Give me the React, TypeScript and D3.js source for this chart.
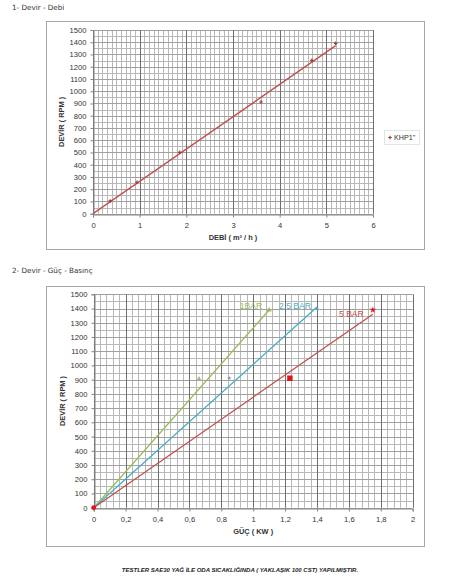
import { useEffect, useRef } from 'react';

import * as d3 from 'd3';

const W = 465;
const H = 580;
const FONT = '"Liberation Sans", Arial, sans-serif';

// 1- Devir - Debi
const debiM3h = [0.37, 0.94, 1.86, 3.6, 4.69, 5.2];
const debiRpm = [104, 257, 501, 912, 1252, 1391];
const debiTrendM3h = [0, 5.2];
const debiTrendRpm = [0, 1372];
const debiTicks = [0, 1, 2, 3, 4, 5, 6];

// 2- Devir - Güç - Basınç
const barLabels = ['1BAR', '2,5 BAR', '5 BAR'];
const barColors = ['#9bbb59', '#4bacc6', '#c0504d'];
const barLineKw = [
    [0, 1.1],
    [0, 1.4],
    [0, 1.75]
];
const barLineRpm = [
    [0, 1390],
    [0, 1410],
    [0, 1360]
];
const bar1Kw = [0.66, 1.1];
const bar1Rpm = [905, 1390];
const bar25Kw = [0.85, 1.4];
const bar25Rpm = [910, 1400];
const bar5Kw = [0, 1.23, 1.75];
const bar5Rpm = [0, 910, 1390];
const gucTicks = [0, 0.2, 0.4, 0.6, 0.8, 1, 1.2, 1.4, 1.6, 1.8, 2];

const rpmTicks = d3.range(0, 1501, 100);

type Frame = {
    box: [number, number, number, number];
    plot: [number, number, number, number];
    xMax: number;
    xMinorCount: number;
    xMajor: number[];
    xTitle: string;
    fmt: (d: number) => string;
};

// snap to the pixel grid so the thin grid lines stay crisp
const px = (v: number) => Math.round(v) + 0.5;

function drawFrame(svg: d3.Selection<SVGSVGElement, unknown, null, undefined>, f: Frame) {
    const [bx, by, bw, bh] = f.box;
    const [px0, py0, px1, py1] = f.plot;

    svg.append('rect')
        .attr('x', bx + 0.5)
        .attr('y', by + 0.5)
        .attr('width', bw)
        .attr('height', bh)
        .attr('fill', '#ffffff')
        .attr('stroke', '#a6a6a6');

    const x = d3.scaleLinear().domain([0, f.xMax]).range([px0, px1]);
    const y = d3.scaleLinear().domain([0, 1500]).range([py1, py0]);
    const g = svg.append('g');

    const xMinor = d3.range(0, f.xMinorCount + 1).map((i) => (i * f.xMax) / f.xMinorCount);

    // minor grid
    g.append('g')
        .selectAll('line')
        .data(xMinor)
        .join('line')
        .attr('x1', (d) => px(x(d)))
        .attr('x2', (d) => px(x(d)))
        .attr('y1', py0)
        .attr('y2', py1)
        .attr('stroke', '#b8b8b8')
        .attr('stroke-width', 1);
    g.append('g')
        .selectAll('line')
        .data(d3.range(0, 1501, 50))
        .join('line')
        .attr('x1', px0)
        .attr('x2', px1)
        .attr('y1', (d) => px(y(d)))
        .attr('y2', (d) => px(y(d)))
        .attr('stroke', (d) => (d % 100 === 0 ? '#a0a0a0' : '#b8b8b8'))
        .attr('stroke-width', 1);
    // major vertical grid
    g.append('g')
        .selectAll('line')
        .data(f.xMajor)
        .join('line')
        .attr('x1', (d) => px(x(d)))
        .attr('x2', (d) => px(x(d)))
        .attr('y1', py0)
        .attr('y2', py1)
        .attr('stroke', '#6e6e6e')
        .attr('stroke-width', 1);

    // axes
    svg.append('g')
        .attr('transform', `translate(0, ${px(py1)})`)
        .call(d3.axisBottom(x).tickValues(f.xMajor).tickSize(3).tickPadding(5).tickFormat((d) => f.fmt(+d)))
        .call((a) => a.select('.domain').attr('stroke', '#868686'))
        .call((a) => a.selectAll('.tick line').attr('stroke', '#868686'))
        .call((a) => a.selectAll('text').attr('font-family', FONT).attr('font-size', 7.6).attr('fill', '#333'));

    svg.append('g')
        .attr('transform', `translate(${px(px0)}, 0)`)
        .call(d3.axisLeft(y).tickValues(rpmTicks).tickSize(3).tickPadding(4).tickFormat(d3.format('d')))
        .call((a) => a.select('.domain').attr('stroke', '#868686'))
        .call((a) => a.selectAll('.tick line').attr('stroke', '#868686'))
        .call((a) => a.selectAll('text').attr('font-family', FONT).attr('font-size', 7.6).attr('fill', '#333'));

    svg.append('text')
        .attr('transform', `translate(${px0 - 29}, ${(py0 + py1) / 2}) rotate(-90)`)
        .attr('text-anchor', 'middle')
        .attr('font-family', FONT)
        .attr('font-size', 7.4)
        .attr('font-weight', 'bold')
        .attr('fill', '#333')
        .text('DEVİR ( RPM )');

    svg.append('text')
        .attr('x', (px0 + px1) / 2)
        .attr('y', py1 + 26)
        .attr('text-anchor', 'middle')
        .attr('font-family', FONT)
        .attr('font-size', 7.4)
        .attr('font-weight', 'bold')
        .attr('fill', '#333')
        .text(f.xTitle);

    return { x, y };
}

export default function App() {
    const ref = useRef<SVGSVGElement>(null);

    useEffect(() => {
        const svg = d3.select(ref.current!);
        svg.selectAll('*').remove();

        svg.append('text')
            .attr('x', 12)
            .attr('y', 10)
            .attr('font-family', '"DejaVu Sans", sans-serif')
            .attr('font-size', 7.2)
            .attr('fill', '#333')
            .text('1- Devir - Debi');

        svg.append('text')
            .attr('x', 12)
            .attr('y', 273)
            .attr('font-family', '"DejaVu Sans", sans-serif')
            .attr('font-size', 7.2)
            .attr('fill', '#333')
            .text('2- Devir - Güç - Basınç');

        // ---------- chart 1
        const c1 = drawFrame(svg, {
            box: [46, 21, 378, 228],
            plot: [93, 30, 373, 213.7],
            xMax: 6,
            xMinorCount: 60,
            xMajor: debiTicks,
            xTitle: 'DEBİ ( m³ / h )',
            fmt: (d) => String(d)
        });

        svg.append('line')
            .attr('x1', c1.x(debiTrendM3h[0]))
            .attr('y1', c1.y(debiTrendRpm[0]))
            .attr('x2', c1.x(debiTrendM3h[1]))
            .attr('y2', c1.y(debiTrendRpm[1]))
            .attr('stroke', '#c0504d')
            .attr('stroke-width', 1.4);

        const plus = d3.symbol().type(d3.symbolCross).size(7);
        svg.append('g')
            .selectAll('path')
            .data(debiM3h)
            .join('path')
            .attr('d', plus)
            .attr('transform', (d, i) => `translate(${c1.x(d)}, ${c1.y(debiRpm[i])})`)
            .attr('fill', '#a03a38');

        // legend
        svg.append('rect')
            .attr('x', 384.5)
            .attr('y', 130.5)
            .attr('width', 35)
            .attr('height', 14)
            .attr('fill', '#fff')
            .attr('stroke', '#e4e4e4');
        svg.append('path')
            .attr('d', plus)
            .attr('transform', 'translate(390, 137.5)')
            .attr('fill', '#a03a38');
        svg.append('text')
            .attr('x', 394)
            .attr('y', 140)
            .attr('font-family', FONT)
            .attr('font-size', 7.2)
            .attr('fill', '#333')
            .text('KHP1"');

        // ---------- chart 2
        const c2 = drawFrame(svg, {
            box: [46, 286, 378, 260],
            plot: [93.7, 294.3, 412.7, 507.7],
            xMax: 2,
            xMinorCount: 50,
            xMajor: gucTicks,
            xTitle: 'GÜÇ ( KW )',
            fmt: (d) => String(d).replace('.', ',')
        });

        barLabels.forEach((label, i) => {
            const kw = barLineKw[i];
            const rpm = barLineRpm[i];
            svg.append('line')
                .attr('x1', c2.x(kw[0]))
                .attr('y1', c2.y(rpm[0]))
                .attr('x2', c2.x(kw[1]))
                .attr('y2', c2.y(rpm[1]))
                .attr('stroke', barColors[i])
                .attr('stroke-width', 1.3);
            const dx = [-7, -6, -9][i];
            const dy = [-1, 1.5, 3][i];
            svg.append('text')
                .attr('x', c2.x(kw[1]) + dx)
                .attr('y', c2.y(rpm[1]) + dy)
                .attr('text-anchor', 'end')
                .attr('font-family', FONT)
                .attr('font-size', 8.6)
                .attr('fill', barColors[i])
                .text(label);
        });

        const tri = d3.symbol().type(d3.symbolTriangle).size(12);
        svg.append('g')
            .selectAll('path')
            .data(bar1Kw)
            .join('path')
            .attr('d', tri)
            .attr('transform', (d, i) => `translate(${c2.x(d)}, ${c2.y(bar1Rpm[i])})`)
            .attr('fill', (_d, i) => (i === 0 ? '#a9b39a' : '#9bbb59'));

        const star = d3.symbol().type(d3.symbolStar).size(6);
        svg.append('g')
            .selectAll('path')
            .data(bar25Kw)
            .join('path')
            .attr('d', star)
            .attr('transform', (d, i) => `translate(${c2.x(d)}, ${c2.y(bar25Rpm[i])})`)
            .attr('fill', (_d, i) => (i === 0 ? '#7f93a8' : '#4bacc6'));

        const redShapes = [
            d3.symbol().type(d3.symbolCircle).size(18),
            d3.symbol().type(d3.symbolSquare).size(30),
            d3.symbol().type(d3.symbolStar).size(14)
        ];
        svg.append('g')
            .selectAll('path')
            .data(bar5Kw)
            .join('path')
            .attr('d', (_d, i) => redShapes[i]())
            .attr('transform', (d, i) => `translate(${c2.x(d)}, ${c2.y(bar5Rpm[i])})`)
            .attr('fill', '#e0161c');

        svg.append('text')
            .attr('x', 240)
            .attr('y', 572)
            .attr('text-anchor', 'middle')
            .attr('font-family', FONT)
            .attr('font-size', 6)
            .attr('font-weight', 'bold')
            .attr('font-style', 'italic')
            .attr('fill', '#222')
            .text('TESTLER SAE30 YAĞ İLE ODA SICAKLIĞINDA ( YAKLAŞIK 100 CST) YAPILMIŞTIR.');
    }, []);

    return <svg ref={ref} width={W} height={H} style={{ position: 'absolute', left: 0, top: 0, background: '#fff' }} />;
}
